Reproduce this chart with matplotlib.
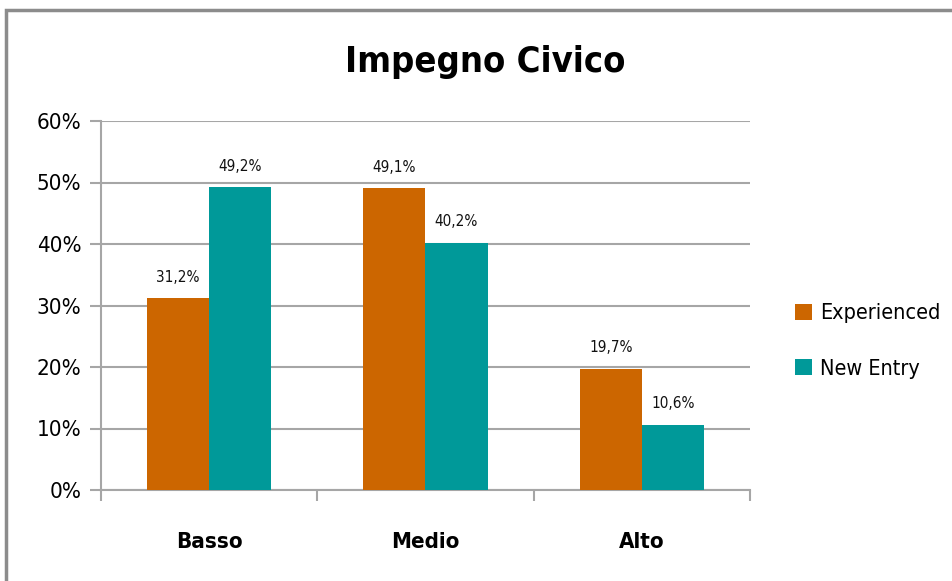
import matplotlib
matplotlib.use("Agg")
import matplotlib.pyplot as plt
import numpy as np
from matplotlib.patches import Rectangle

categories = ["Basso", "Medio", "Alto"]
experienced = [31.2, 49.1, 19.7]
new_entry = [49.2, 40.2, 10.6]
series_names = ["Experienced", "New Entry"]
y_ticks = [0, 10, 20, 30, 40, 50, 60]

ORANGE = "#CC6600"
TEAL = "#009999"
GRID = "#A6A6A6"
FONT = dict(family="DejaVu Sans", stretch="condensed")

fig = plt.figure(figsize=(9.53, 5.81), dpi=100)
# outer chart frame (partly cropped like the reference)
fig.patches.append(Rectangle((6 / 953, -0.05), 1.0, (581 - 10) / 581 + 0.05,
                             transform=fig.transFigure, fill=False,
                             edgecolor="#8C8C8C", linewidth=2.5))

ax = fig.add_axes([101 / 953, 1 - 490 / 581, (750 - 101) / 953, (490 - 121) / 581])

x = np.arange(len(categories))
w = 0.287
b1 = ax.bar(x - w / 2, experienced, w, color=ORANGE, label=series_names[0], zorder=3)
b2 = ax.bar(x + w / 2, new_entry, w, color=TEAL, label=series_names[1], zorder=3)

for bars, vals in ((b1, experienced), (b2, new_entry)):
    for r, v in zip(bars, vals):
        ax.text(r.get_x() + r.get_width() / 2, v + 2.2, f"{v:.1f}%".replace(".", ","),
                ha="center", va="bottom", fontsize=11, color="#111111", **FONT)

ax.set_xlim(-0.5, 2.5)
ax.set_ylim(0, 60)
ax.set_yticks(y_ticks)
ax.set_yticklabels([f"{t}%" for t in y_ticks], fontsize=16, **FONT)
ax.yaxis.grid(True, color=GRID, linewidth=1.5, zorder=0)
ax.tick_params(axis="y", length=8, width=1.5, color=GRID, pad=6)

ax.set_xticks([-0.5, 0.5, 1.5, 2.5])
ax.set_xticklabels([])
ax.tick_params(axis="x", length=8, width=1.5, color=GRID)
for i, c in enumerate(categories):
    ax.text(i, -8.5, c, ha="center", va="center", fontsize=16, fontweight="bold",
            transform=ax.transData, **FONT)

for s in ("top", "right"):
    ax.spines[s].set_visible(False)
for s in ("left", "bottom"):
    ax.spines[s].set_color(GRID)
    ax.spines[s].set_linewidth(1.5)

fig.text(485 / 953, 1 - 62 / 581, "Impegno Civico", ha="center", va="center",
         fontsize=26, fontweight="bold", **FONT)

fig.legend(loc="center left", bbox_to_anchor=(776 / 953, 1 - 341 / 581),
           frameon=False, prop=dict(size=15.5, **FONT),
           handlelength=0.75, handleheight=0.75, handletextpad=0.4,
           labelspacing=1.65)

fig.savefig("out.png", dpi=100)
